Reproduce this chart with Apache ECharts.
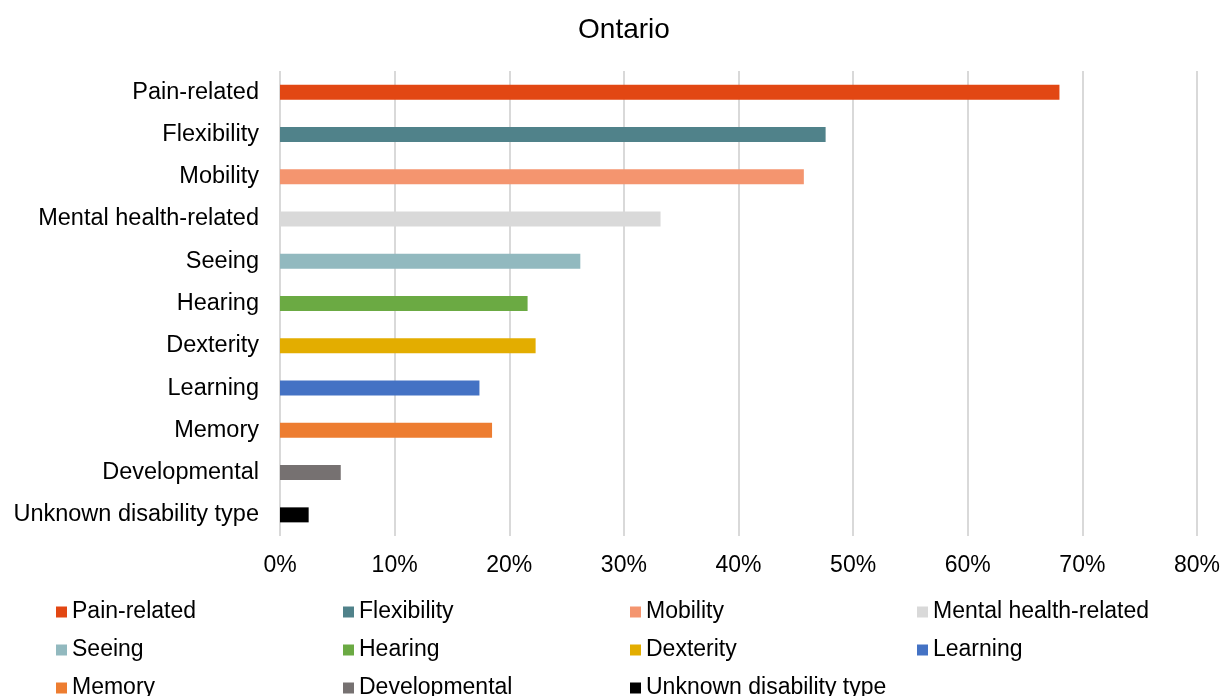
<!DOCTYPE html>
<html>
<head>
<meta charset="utf-8">
<script src="https://cdn.jsdelivr.net/npm/echarts@6/dist/echarts.min.js"></script>
<style>
  html, body { margin: 0; padding: 0; background: #fff; }
  #chart { width: 1225px; height: 696px; }
</style>
</head>
<body>
<div id="chart"></div>
<script>
// Share of people with disabilities in Ontario, by disability type (%)
const categories = [
  'Pain-related', 'Flexibility', 'Mobility', 'Mental health-related', 'Seeing',
  'Hearing', 'Dexterity', 'Learning', 'Memory', 'Developmental', 'Unknown disability type'
];
const values = [68.0, 47.6, 45.7, 33.2, 26.2, 21.6, 22.3, 17.4, 18.5, 5.3, 2.5];
const colors = [
  '#E24713', '#50828A', '#F4956F', '#D9D9D9', '#92B9BF',
  '#6BAA43', '#E3AD00', '#4472C4', '#ED7D31', '#767171', '#000000'
];
const xTicks = [0, 10, 20, 30, 40, 50, 60, 70, 80];

const FONT = '"Liberation Sans", Arial, sans-serif';

// One series per disability type so each gets its own legend entry;
// stacked so every bar sits centred on its own category row.
const series = categories.map((name, i) => ({
  name: name,
  type: 'bar',
  stack: 'all',
  barWidth: 15,
  itemStyle: { color: colors[i] },
  data: categories.map((c, j) => (j === i ? values[i] : '-'))
}));

const chart = echarts.init(document.getElementById('chart'), null, { renderer: 'canvas' });
chart.setOption({
  animation: false,
  backgroundColor: '#ffffff',
  title: {
    text: 'Ontario',
    left: 619,
    textAlign: 'center',
    top: 11,
    textStyle: { fontFamily: FONT, fontSize: 28, fontWeight: 'normal', color: '#000' }
  },
  grid: { left: 280, right: 28, top: 71, bottom: 160, containLabel: false },
  xAxis: {
    type: 'value',
    min: xTicks[0],
    max: xTicks[xTicks.length - 1],
    interval: 10,
    axisLine: { show: false },
    axisTick: { show: false },
    splitLine: { show: true, lineStyle: { color: '#D9D9D9', width: 2 } },
    axisLabel: {
      margin: 18,
      fontFamily: FONT, fontSize: 23, color: '#000',
      formatter: v => v + '%'
    }
  },
  yAxis: {
    type: 'category',
    data: categories,
    inverse: true,
    axisLine: { show: false },
    axisTick: { show: false },
    axisLabel: { margin: 21, fontFamily: FONT, fontSize: 23.5, color: '#000' }
  },
  legend: {
    data: categories,
    left: 56,
    top: 593,
    width: 1148,
    itemWidth: 11,
    itemHeight: 11,
    itemGap: 0,
    icon: 'rect',
    padding: 0,
    textStyle: {
      fontFamily: FONT, fontSize: 23, color: '#000',
      width: 271, lineHeight: 38, overflow: 'truncate'
    }
  },
  series: series
});
</script>
</body>
</html>
